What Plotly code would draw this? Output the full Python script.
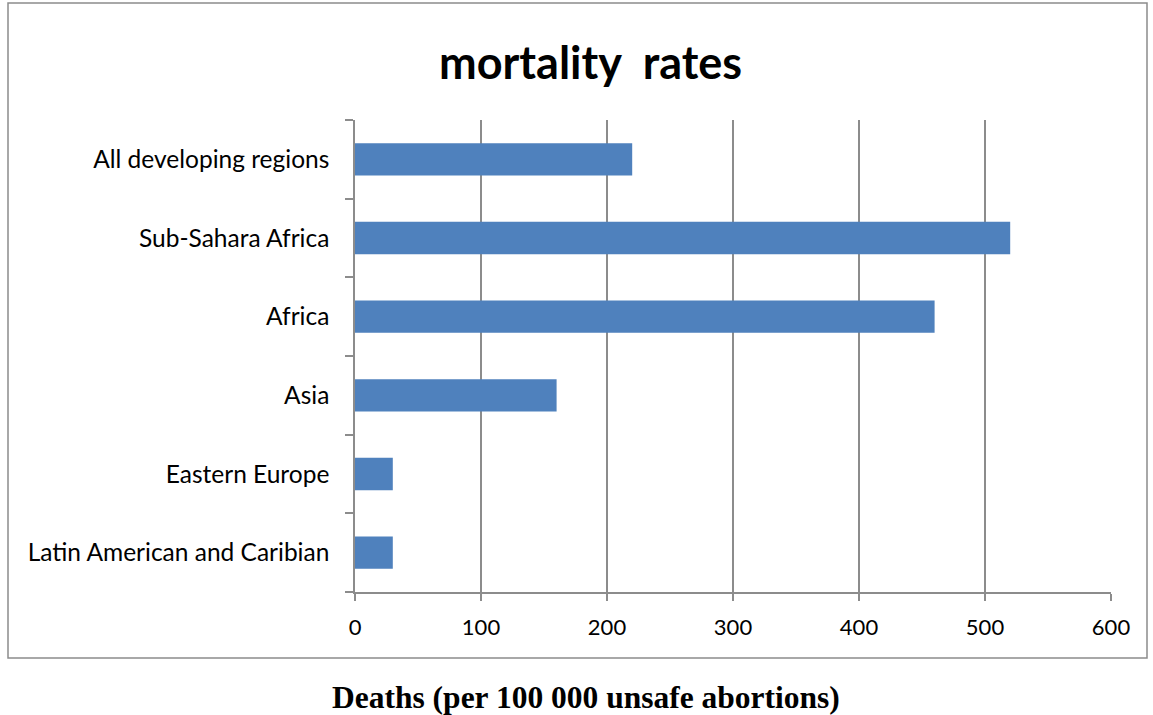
import plotly.graph_objects as go

categories = ["All developing regions", "Sub-Sahara Africa", "Africa", "Asia",
              "Eastern Europe", "Latin American and Caribian"]
values = [220, 520, 460, 160, 30, 30]
x_ticks = [0, 100, 200, 300, 400, 500, 600]

W, H = 1153, 715
L, R, T, B = 355, 1111, 120, 592
pw, ph = R - L, B - T

def px(x):
    return (x - L) / pw

def py(y):
    return (B - y) / ph

fig = go.Figure(go.Bar(
    x=values, y=categories, orientation="h",
    marker=dict(color="#4F81BD", line=dict(width=0)),
))

fig.update_layout(
    width=W, height=H,
    margin=dict(l=L, r=W - R, t=T, b=H - B),
    paper_bgcolor="white", plot_bgcolor="white",
    bargap=0.59,
    showlegend=False,
    font=dict(family="Lato, Carlito, sans-serif", color="black"),
)

fig.update_xaxes(
    range=[0, 600], tickvals=x_ticks, ticktext=[str(v) for v in x_ticks],
    showgrid=True, gridcolor="#8C8C8C", gridwidth=1.5,
    showline=True, linecolor="#8C8C8C", linewidth=1.5,
    ticks="outside", ticklen=7, tickcolor="#8C8C8C", tickwidth=1.5,
    ticklabelstandoff=8,
    tickfont=dict(size=22), zeroline=False,
)
fig.update_yaxes(
    categoryorder="array", categoryarray=categories[::-1],
    showgrid=False, showline=True, linecolor="#8C8C8C", linewidth=1.5,
    ticks="outside", ticklen=8, tickcolor="#8C8C8C", tickwidth=1.5,
    tickson="boundaries", ticklabelstandoff=19,
    tickfont=dict(size=24.5),
)

# outer border
fig.add_shape(type="rect", xref="paper", yref="paper",
              x0=px(8), x1=px(1147), y0=py(658), y1=py(3),
              line=dict(color="#8C8C8C", width=1.5), layer="below")

fig.add_annotation(text="<b>mortality  rates</b>", xref="paper", yref="paper",
                   x=px(590), y=py(62), showarrow=False,
                   xanchor="center", yanchor="middle",
                   font=dict(size=45, family="Lato, Carlito, sans-serif", color="black"))

fig.add_annotation(text="<b>Deaths (per 100 000 unsafe abortions)</b>",
                   xref="paper", yref="paper",
                   x=px(586), y=py(697), showarrow=False,
                   xanchor="center", yanchor="middle",
                   font=dict(size=31.5, family="Liberation Serif, Times New Roman, serif", color="black"))

fig.write_html("out.html",
               config={"displayModeBar": False},
               post_script="document.body.style.margin='0';document.body.style.overflow='hidden';")
